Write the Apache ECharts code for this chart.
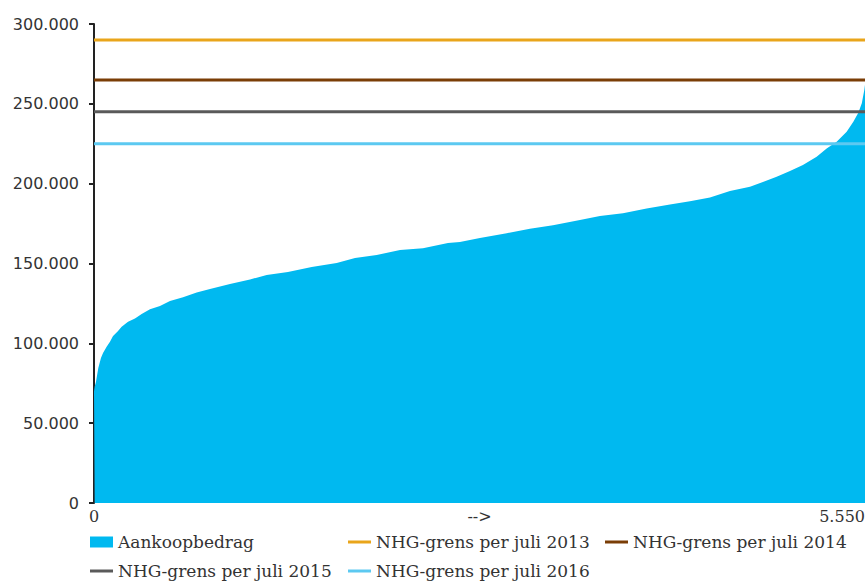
<!DOCTYPE html>
<html>
<head>
<meta charset="utf-8">
<script src="https://cdn.jsdelivr.net/npm/echarts@6/dist/echarts.min.js"></script>
<style>
  html, body { margin: 0; padding: 0; background: #fff; }
  #chart { width: 865px; height: 581px; }
</style>
</head>
<body>
<div id="chart"></div>
<script>
(function() {
  // sorted purchase amounts (index, amount)
  var positions = [0, 5, 14, 31, 50, 65, 91, 115, 137, 173, 199, 245, 295, 343, 403, 475, 547, 641, 739, 835,
    979, 1123, 1243, 1396, 1567, 1747, 1879, 2035, 2203, 2368, 2548, 2634, 2778, 2971, 3138, 3304, 3498,
    3642, 3808, 3978, 4146, 4290, 4434, 4578, 4722, 4815, 4914, 5010, 5103, 5202, 5274, 5346, 5418,
    5466, 5502, 5527, 5545, 5550];
  var amounts = [70000, 73000, 75800, 84500, 90800, 94000, 97900, 101000, 104600, 107700, 110400, 113500,
    115600, 118300, 121300, 123400, 126500, 128800, 131900, 134000, 137100, 140000, 142800, 144600,
    147800, 150300, 153400, 155300, 158400, 159500, 162800, 163500, 166000, 169000, 171800, 174000,
    177200, 179700, 181400, 184500, 187000, 189000, 191400, 195400, 198000, 201000, 204400, 207900,
    211700, 216900, 222000, 226300, 232500, 238800, 244400, 250300, 258700, 262000];

  var limitNames = ['NHG-grens per juli 2013', 'NHG-grens per juli 2014', 'NHG-grens per juli 2015', 'NHG-grens per juli 2016'];
  var limitValues = [290000, 265000, 245000, 225000];
  var limitColors = ['#e9a51b', '#7a3d06', '#5a5a5a', '#5cc9f1'];

  var xMax = 5550;
  var barColor = '#00b9f0';
  var ink = '#333333';

  function nl(v) {
    return String(v).replace(/\B(?=(\d{3})+(?!\d))/g, '.');
  }

  var series = [{
    name: 'Aankoopbedrag',
    type: 'line',
    symbol: 'none',
    lineStyle: { width: 0, color: barColor },
    itemStyle: { color: barColor },
    areaStyle: { color: barColor, opacity: 1 },
    data: positions.map(function(p, i) { return [p, amounts[i]]; }),
    z: 1
  }];
  limitNames.forEach(function(n, i) {
    series.push({
      name: n,
      type: 'line',
      symbol: 'none',
      lineStyle: { width: 3, color: limitColors[i] },
      itemStyle: { color: limitColors[i] },
      data: [[0, limitValues[i]], [xMax, limitValues[i]]],
      z: 3
    });
  });

  var legendText = { color: ink, fontFamily: 'DejaVu Serif', fontSize: 17, lineHeight: 18 };
  function leg(name, left, top, isBar) {
    return {
      data: [name],
      left: left,
      top: top,
      padding: 0,
      itemWidth: 23,
      itemHeight: isBar ? 11 : 3,
      itemGap: 0,
      icon: 'rect',
      textStyle: legendText,
      selectedMode: false
    };
  }

  var chart = echarts.init(document.getElementById('chart'), null, { renderer: 'svg' });
  chart.setOption({
    animation: false,
    grid: { left: 94, right: 0, top: 24, bottom: 78, outerBoundsMode: 'none', containLabel: false },
    legend: [
      leg('Aankoopbedrag', 90, 533, true),
      leg(limitNames[0], 348, 533),
      leg(limitNames[1], 605, 533),
      leg(limitNames[2], 90, 562),
      leg(limitNames[3], 348, 562)
    ],
    xAxis: {
      type: 'value',
      min: 0,
      max: xMax,
      interval: xMax / 2,
      axisLine: { show: false },
      axisTick: { show: false },
      splitLine: { show: false },
      axisLabel: {
        color: ink,
        fontFamily: 'DejaVu Serif',
        fontSize: 16,
        margin: 5,
        alignMaxLabel: 'right',
        formatter: function(v) {
          if (v === 0) return '0';
          if (v === xMax) return nl(xMax);
          return '-->';
        }
      }
    },
    yAxis: {
      type: 'value',
      min: 0,
      max: 300000,
      interval: 50000,
      axisLine: { show: true, lineStyle: { color: '#222', width: 2 } },
      axisTick: { show: true, length: 5, lineStyle: { color: '#222', width: 2 } },
      splitLine: { show: false },
      axisLabel: {
        color: ink,
        fontFamily: 'DejaVu Sans',
        fontSize: 16,
        margin: 15,
        formatter: function(v) { return nl(v); }
      }
    },
    series: series
  });
  window.addEventListener('resize', function() { chart.resize(); });
})();
</script>
</body>
</html>
